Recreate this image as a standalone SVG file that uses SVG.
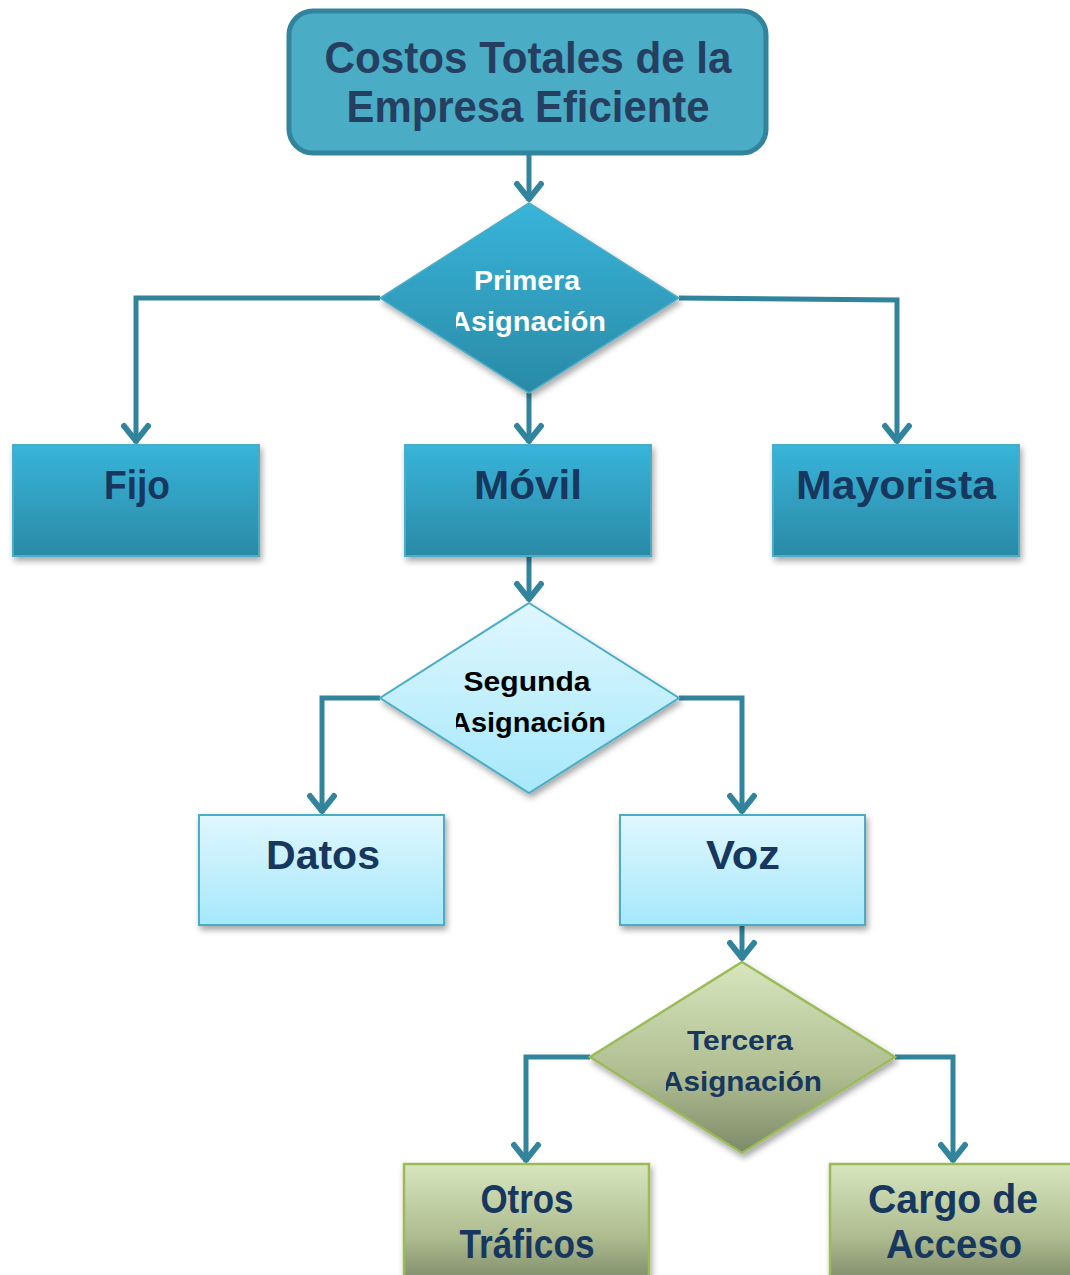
<svg xmlns="http://www.w3.org/2000/svg" width="1070" height="1275" viewBox="0 0 1070 1275">
<defs>
<linearGradient id="gBlue" x1="0" y1="0" x2="0" y2="1"><stop offset="0" stop-color="#38B4DA"/><stop offset="1" stop-color="#2A8AA6"/></linearGradient>
<linearGradient id="gLight" x1="0" y1="0" x2="0" y2="1"><stop offset="0" stop-color="#E0F7FE"/><stop offset="1" stop-color="#A6E8FB"/></linearGradient>
<linearGradient id="gGreen" x1="0" y1="0" x2="0" y2="1"><stop offset="0" stop-color="#D8E6BE"/><stop offset="0.6" stop-color="#AEBC90"/><stop offset="1" stop-color="#7D8A69"/></linearGradient>
<filter id="sh" x="-10%" y="-10%" width="125%" height="130%"><feDropShadow dx="2" dy="4" stdDeviation="3" flood-color="#000" flood-opacity="0.35"/></filter>
<marker id="arr" markerUnits="userSpaceOnUse" viewBox="-24 -16 28 32" markerWidth="28" markerHeight="32" refX="0" refY="0" orient="auto" overflow="visible">
<path d="M-17,-12 L-2,0 L-17,12" fill="none" stroke="#31849B" stroke-width="6" stroke-linecap="round" stroke-linejoin="round"/>
</marker>
<clipPath id="c1"><rect x="456" y="250" width="149" height="100"/></clipPath>
<clipPath id="c2"><rect x="456" y="650" width="149" height="100"/></clipPath>
<clipPath id="c3"><rect x="666" y="1010" width="155" height="100"/></clipPath>
</defs>
<style>
.conn{fill:none;stroke:#31849B;stroke-width:5;stroke-linejoin:miter}
.t{font-family:"Liberation Sans",Arial,sans-serif;font-weight:bold;text-anchor:middle}
.mid{font-size:40px;fill:#17375E}
.dia{font-size:28px}
.boxB{fill:url(#gBlue);stroke:#4BACC6;stroke-width:2}
.boxL{fill:url(#gLight);stroke:#4BACC6;stroke-width:2}
.boxG{fill:url(#gGreen);stroke:#9BBB59;stroke-width:2.5}
</style>

<g id="connectors">
<path class="conn" d="M529,153 V201" marker-end="url(#arr)"/>
<path class="conn" d="M380,298 H136 V443" marker-end="url(#arr)"/>
<path class="conn" d="M529,393 V443" marker-end="url(#arr)"/>
<path class="conn" d="M679,298 L897,300 V443" marker-end="url(#arr)"/>
<path class="conn" d="M529,556 V601" marker-end="url(#arr)"/>
<path class="conn" d="M380,698 H322 V813" marker-end="url(#arr)"/>
<path class="conn" d="M679,698 H742 V813" marker-end="url(#arr)"/>
<path class="conn" d="M742,925 V960" marker-end="url(#arr)"/>
<path class="conn" d="M590,1057 H526 V1162" marker-end="url(#arr)"/>
<path class="conn" d="M895,1057 H953 V1162" marker-end="url(#arr)"/>
</g>

<g id="costos-totales">
<rect x="289" y="11" width="477" height="142" rx="24" fill="#4BACC6" stroke="#31849B" stroke-width="5"/>
<text class="t" x="528" y="73" font-size="44" fill="#243F60" textLength="407" lengthAdjust="spacingAndGlyphs">Costos Totales de la</text>
<text class="t" x="528" y="122" font-size="44" fill="#243F60" textLength="363" lengthAdjust="spacingAndGlyphs">Empresa Eficiente</text>
</g>

<g id="primera-asignacion">
<polygon points="529,203 679,298 529,393 380,298" fill="url(#gBlue)" stroke="#4BACC6" stroke-width="1.5" filter="url(#sh)"/>
<g clip-path="url(#c1)">
<text class="t dia" x="527" y="290" fill="#FFFFFF" textLength="106" lengthAdjust="spacingAndGlyphs">Primera</text>
<text class="t dia" x="528" y="331" fill="#FFFFFF" textLength="156" lengthAdjust="spacingAndGlyphs">Asignación</text>
</g>
</g>

<g id="fijo">
<rect class="boxB" x="13" y="445" width="246" height="111" filter="url(#sh)"/>
<text class="t mid" x="137" y="499" textLength="66" lengthAdjust="spacingAndGlyphs">Fijo</text>
</g>
<g id="movil">
<rect class="boxB" x="405" y="445" width="246" height="111" filter="url(#sh)"/>
<text class="t mid" x="528" y="499" textLength="108" lengthAdjust="spacingAndGlyphs">Móvil</text>
</g>
<g id="mayorista">
<rect class="boxB" x="773" y="445" width="246" height="111" filter="url(#sh)"/>
<text class="t mid" x="896" y="499" textLength="200" lengthAdjust="spacingAndGlyphs">Mayorista</text>
</g>

<g id="segunda-asignacion">
<polygon points="529,603 679,698 529,793 380,698" fill="url(#gLight)" stroke="#4BACC6" stroke-width="2" filter="url(#sh)"/>
<g clip-path="url(#c2)">
<text class="t dia" x="527" y="691" fill="#000000" textLength="127" lengthAdjust="spacingAndGlyphs">Segunda</text>
<text class="t dia" x="528" y="732" fill="#000000" textLength="156" lengthAdjust="spacingAndGlyphs">Asignación</text>
</g>
</g>

<g id="datos">
<rect class="boxL" x="199" y="815" width="245" height="110" filter="url(#sh)"/>
<text class="t mid" x="323" y="869" textLength="114" lengthAdjust="spacingAndGlyphs">Datos</text>
</g>
<g id="voz">
<rect class="boxL" x="620" y="815" width="245" height="110" filter="url(#sh)"/>
<text class="t mid" x="743" y="869" textLength="74" lengthAdjust="spacingAndGlyphs">Voz</text>
</g>

<g id="tercera-asignacion">
<polygon points="742,962 895,1057 742,1153 590,1057" fill="url(#gGreen)" stroke="#9BBB59" stroke-width="2.5" filter="url(#sh)"/>
<g clip-path="url(#c3)">
<text class="t dia" x="740" y="1050" fill="#17375E" textLength="106" lengthAdjust="spacingAndGlyphs">Tercera</text>
<text class="t dia" x="742" y="1091" fill="#17375E" textLength="160" lengthAdjust="spacingAndGlyphs">Asignación</text>
</g>
</g>

<g id="otros-traficos">
<rect class="boxG" x="404" y="1164" width="245" height="120" filter="url(#sh)"/>
<text class="t mid" x="527" y="1213" textLength="93" lengthAdjust="spacingAndGlyphs">Otros</text>
<text class="t mid" x="527" y="1258" textLength="135" lengthAdjust="spacingAndGlyphs">Tráficos</text>
</g>
<g id="cargo-de-acceso">
<rect class="boxG" x="830" y="1164" width="245" height="120" filter="url(#sh)"/>
<text class="t mid" x="953" y="1213" textLength="170" lengthAdjust="spacingAndGlyphs">Cargo de</text>
<text class="t mid" x="954" y="1258" textLength="136" lengthAdjust="spacingAndGlyphs">Acceso</text>
</g>
</svg>
